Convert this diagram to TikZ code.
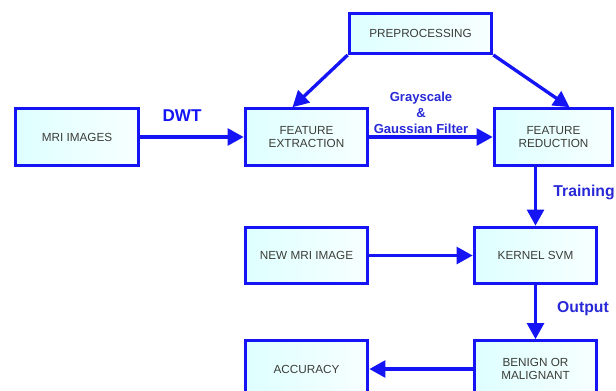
\documentclass[tikz,border=0pt]{standalone}
\usepackage{fontspec}
\setmainfont{Liberation Sans}
\usetikzlibrary{calc,arrows.meta}

\definecolor{boxblue}{RGB}{20,20,245}
\definecolor{labblue}{RGB}{40,40,215}
\definecolor{txtgray}{RGB}{60,60,55}

\tikzset{
	block/.style={draw=boxblue,line width=2.2pt,left color=cyan!13,right color=cyan!3,
		text=txtgray,font=\fontsize{8.8}{10}\selectfont,align=center,
		minimum width=92pt,minimum height=42.5pt,inner sep=1pt},
	flow/.style={draw=boxblue,line width=2.5pt,-{Triangle[length=12pt,width=12.5pt]}},
	lab/.style={text=labblue,font=\bfseries\fontsize{11.8}{12}\selectfont,align=center}
}

\begin{document}
\begin{tikzpicture}[x=0.75pt,y=-0.75pt]
	\useasboundingbox (0,0) rectangle (616,390);
	\clip (0,0) rectangle (616,390);

	\node[block] (mri) at (77,137) {MRI IMAGES};
	\node[block] (fe) at (306.5,137) {FEATURE\\EXTRACTION};
	\node[block,minimum width=107pt,minimum height=30pt] (pre) at (420.5,33.5) {PREPROCESSING};
	\node[block,minimum width=89pt] (fr) at (553.5,137) {FEATURE\\REDUCTION};

	\node[block] (new) at (306.5,255.5) {NEW MRI IMAGE};
	\node[block] (svm) at (535.5,255.5) {KERNEL SVM};

	\node[block] (acc) at (306.5,369) {ACCURACY};
	\node[block] (ben) at (535.5,369) {BENIGN OR\\MALIGNANT};

	\draw[flow] (mri) -- (fe);
	\draw[flow] (fe) -- (fr);
	\draw[flow] (pre.south west) -- ($(fe.north)+(-14,0)$);
	\draw[flow] (pre.south east) -- ($(fr.north)+(16,0)$);
	\draw[flow] (fr.south -| svm.north) -- (svm.north);
	\draw[flow] (new) -- (svm);
	\draw[flow] (svm) -- (ben);
	\draw[flow] (ben) -- (acc);

	\node[lab,text=boxblue,font=\bfseries\fontsize{12.8}{13}\selectfont] (dwt) at (182,116) {DWT};
	\node[lab,font=\bfseries\fontsize{9.8}{12}\selectfont] (filt) at (421,113) {Grayscale\\\&\\Gaussian Filter};
	\node[lab] (train) at (584,192) {Training};
	\node[lab] (outp) at (583,309) {Output};
\end{tikzpicture}
\end{document}
